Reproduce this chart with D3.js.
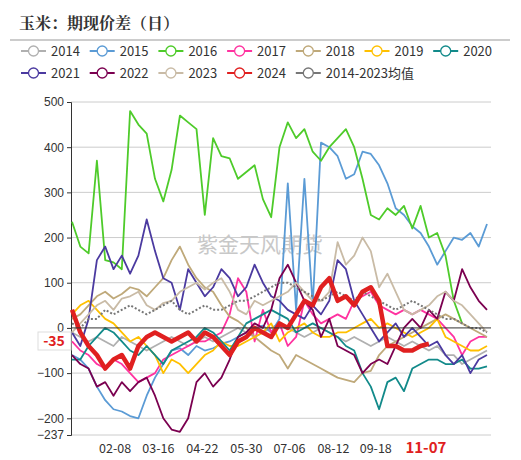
<!DOCTYPE html>
<html><head><meta charset="utf-8">
<script src="https://cdn.jsdelivr.net/npm/d3@7"></script>
<style>body{margin:0;background:#fff;font-family:"Noto Sans CJK SC","Noto Sans",sans-serif}</style>
</head><body><svg id="c" width="521" height="460"></svg>
<script>
const seriesNames=["2014","2015","2016","2017","2018","2019","2020","2021","2022","2023","2024","2014-2023均值"];
const colors=["#b0b0b0","#5b9bd5","#4ecb2a","#ff33a0","#bfa97a","#ffc000","#128a8a","#4b3aa0","#7b0050","#c9bba6","#e02020","#777777"];
const tickLabels=["02-08","03-16","04-22","05-30","07-06","08-12","09-18"];
const tickPos=[5.2,10.4,15.7,21.0,26.2,31.5,36.6];
const yTicks=[500,400,300,200,100,0,-100,-200,-237];
const s2014=[-10,-20,-30,-20,-30,-40,-20,-30,-40,-50,-40,-30,-20,-30,-40,-30,-20,-30,-20,-10,0,-10,-20,-10,0,10,0,-10,-20,-10,0,-10,-20,-30,-20,-30,-40,-30,-20,-30,-40,-30,-40,-50,-40,-60,-60,-80,-70,-60,-50];
const s2015=[-60,-70,-90,-130,-160,-180,-185,-195,-200,-150,-110,-80,-50,-45,-60,-40,-50,-45,-35,-30,-20,-10,0,5,-10,20,320,40,330,50,410,400,380,330,340,390,385,360,320,265,250,225,210,180,140,170,200,195,210,180,230];
const s2016=[235,180,165,370,150,145,130,480,450,430,330,280,350,470,455,440,250,420,380,375,330,345,360,285,245,400,455,420,440,390,370,400,420,440,400,330,250,240,265,250,270,220,270,200,210,160,60,10,null,null,null];
const s2017=[-30,-50,-60,-80,-90,-70,-80,-100,-120,-110,-100,-70,-60,-50,-40,-30,-30,-20,-10,30,110,80,-30,40,-10,10,-40,-20,60,30,10,20,30,20,60,70,80,50,40,30,40,30,40,30,20,0,-20,-60,-30,-20,-20];
const s2018=[20,30,50,70,80,65,75,90,85,70,90,110,150,180,140,110,90,80,50,25,15,0,-20,-35,-50,-60,-90,-60,-70,-80,-90,-100,-110,-115,-120,-100,-95,-60,-40,-30,-20,-10,0,10,20,30,20,10,0,-10,-20];
const s2019=[30,50,60,40,20,10,-10,-30,-20,-40,-60,-100,-70,-80,-100,-80,-60,-50,-30,-40,-40,-30,-20,-10,10,-30,-10,0,10,-10,-20,-20,-10,-10,0,10,20,0,10,0,-10,-20,-10,0,20,-20,-30,-40,-50,-50,-40];
const s2020=[-70,-70,-40,-20,0,-10,-30,-50,-60,-40,-60,-80,-50,-40,-30,-20,0,-10,-30,-50,-20,10,20,30,40,30,20,-10,0,10,0,-10,-20,-40,-50,-100,-130,-180,-120,-110,-140,-90,-80,-70,-70,-80,-80,-70,-90,-90,-85];
const s2021=[-10,-40,20,150,180,130,160,120,160,240,170,110,100,40,130,100,70,90,130,110,70,90,140,100,70,60,40,30,20,50,30,60,150,130,60,30,0,-30,-10,10,-20,0,-20,-40,-30,-60,-80,-60,-100,-70,-60];
const s2022=[-60,-80,-90,-130,-120,-150,-120,-140,-120,-110,-150,-200,-225,-230,-200,-120,-100,-130,-110,-70,-20,-10,10,0,40,110,140,100,60,40,-20,20,-40,-50,-60,-100,-80,-70,-80,-40,0,20,0,40,20,80,60,130,90,60,40];
const s2023=[-10,10,30,50,60,40,65,70,80,50,40,55,60,80,90,100,85,100,110,80,40,30,60,50,60,70,80,100,80,60,60,80,190,140,160,200,170,90,120,80,40,30,40,50,70,80,60,50,30,10,-10];
const s2024=[40,-10,-40,-60,-90,-70,-60,-90,-40,-20,-10,-20,-30,-20,-10,-30,-10,-20,-40,-60,-30,-20,0,-10,-20,10,0,30,60,50,90,110,60,70,50,80,90,60,-40,-40,-50,-50,-40,-35];
const sAvg=[10,0,20,20,40,30,40,50,40,30,40,50,60,40,30,40,50,40,40,50,60,60,70,80,90,100,100,90,80,70,60,70,80,70,60,80,70,60,50,40,50,60,50,40,30,20,20,10,0,0,-10];
const allSeries=[s2014,s2015,s2016,s2017,s2018,s2019,s2020,s2021,s2022,s2023,s2024,sAvg];
const order=[0,1,2,3,4,5,6,7,8,9,11,10];

const svg=d3.select("#c");
const x=d3.scaleLinear().domain([0,50]).range([72,487]);
const y=d3.scaleLinear().domain([-237,500]).range([435,102]);
svg.append("text").attr("x",19).attr("y",29).text("玉米：期现价差（日）").attr("font-size",16).attr("font-weight","bold").attr("fill","#333").attr("font-family","'Noto Serif CJK SC','Noto Sans CJK SC',serif");
svg.append("line").attr("x1",10).attr("x2",510).attr("y1",40).attr("y2",40).attr("stroke","#999");
seriesNames.forEach((n,i)=>{
  const r=i<7?0:1, c=i<7?i:i-7;
  const lx=21+c*68.7, ly=51+r*22;
  const g=svg.append("g");
  g.append("line").attr("x1",lx).attr("x2",lx+25).attr("y1",ly).attr("y2",ly).attr("stroke",colors[i]).attr("stroke-width",2);
  g.append("circle").attr("cx",lx+12.5).attr("cy",ly).attr("r",5).attr("fill","#fff").attr("stroke",colors[i]).attr("stroke-width",1.3);
  g.append("text").attr("x",lx+30).attr("y",ly+4.5).text(n).attr("font-size",13).attr("fill","#333");
});
yTicks.forEach(t=>{
  if(t!==0) svg.append("line").attr("x1",71).attr("x2",491).attr("y1",y(t)).attr("y2",y(t)).attr("stroke","#ccc");
});
svg.append("text").attr("x",260).attr("y",252).attr("text-anchor","middle").text("紫金天风期货").attr("font-size",21).attr("fill","#c8c8c8");
const yAxis=d3.axisLeft(y).tickValues(yTicks).tickSize(4).tickFormat(d3.format("d"));
const ga=svg.append("g").attr("transform","translate(71,0)").call(yAxis);
ga.selectAll("text").attr("font-size",12).attr("fill","#333");
ga.select(".domain").attr("stroke","#333");
ga.selectAll(".tick line").attr("stroke","#333");
const line=d3.line().defined(d=>d!=null).x((d,i)=>x(i)).y(d=>y(d));
order.forEach(i=>{
  const avg=i===11;
  svg.append("path").datum(allSeries[i]).attr("d",line).attr("fill","none")
    .attr("stroke",colors[i]).attr("stroke-width",i===10?4.5:(avg?2:1.8))
    .attr("stroke-dasharray",avg?"2,2":null).attr("stroke-linejoin","round");
});
svg.append("line").attr("x1",71).attr("x2",491).attr("y1",y(0)).attr("y2",y(0)).attr("stroke","#333");
const gx=svg.append("g").attr("transform","translate(0,440)");
tickLabels.forEach((t,i)=>gx.append("text").attr("x",x(tickPos[i])).attr("y",13).attr("text-anchor","middle").text(t).attr("font-size",12.5).attr("fill","#333"));
gx.append("text").attr("x",x(43)-3).attr("y",13).attr("text-anchor","middle").text("11-07").attr("font-size",15).attr("font-weight","bold").attr("fill","#e02020");
svg.append("rect").attr("x",38).attr("y",332).attr("width",33).attr("height",18).attr("fill","#fff").attr("stroke","#ddd");
svg.append("text").attr("x",54).attr("y",346).attr("text-anchor","middle").text("-35").attr("font-size",14).attr("font-weight","bold").attr("fill","#e02020");
</script></body></html>
